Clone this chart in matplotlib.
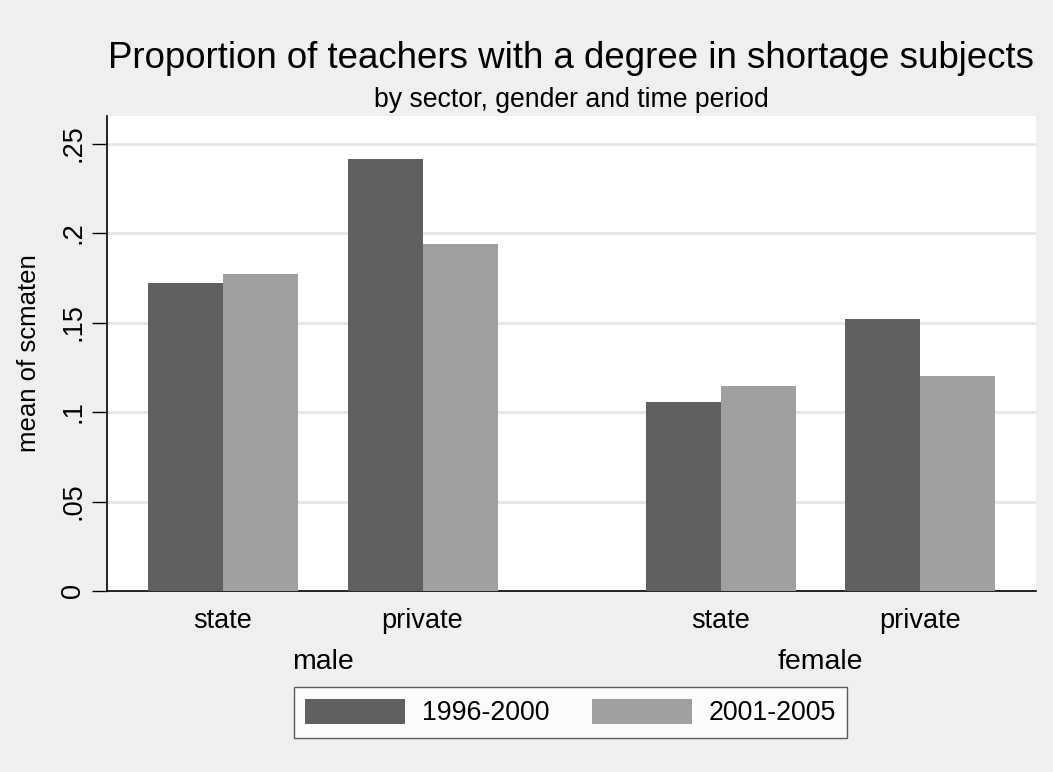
import matplotlib
matplotlib.use('Agg')
import matplotlib.pyplot as plt
import matplotlib.transforms as mtransforms

# ---- data ----
genders = ['male', 'female']
sectors = ['state', 'private']
periods = ['1996-2000', '2001-2005']
vals_1996 = [0.1721, 0.2414, 0.1056, 0.1520]   # male-state, male-private, female-state, female-private
vals_2001 = [0.1771, 0.1939, 0.1146, 0.1201]
yticks = [0, 0.05, 0.10, 0.15, 0.20, 0.25]
ytick_labels = ['0', '.05', '.1', '.15', '.2', '.25']
colors = ['#606060', '#a0a0a0']

plt.rcParams['font.family'] = ['Liberation Sans', 'DejaVu Sans']

W, H = 1053, 772
BG = '#efefef'
fig = plt.figure(figsize=(W / 100, H / 100), dpi=100, facecolor=BG)

# axes placement (pixels)
L, R, T, B = 107, 1036, 116, 591
ax = fig.add_axes([L / W, (H - B) / H, (R - L) / W, (B - T) / H])
ax.set_facecolor('white')

# layout in bar-width units
bw = 1.0
left_pad = 41 / 75
pair_gap = 49.5 / 75
group_gap = 148 / 75
centers = []
x = left_pad
for g in range(len(genders)):
    for s in range(len(sectors)):
        centers.append(x + bw)  # pair center
        x += 2 * bw
        if s < len(sectors) - 1:
            x += pair_gap
    if g < len(genders) - 1:
        x += group_gap
xmax = (R - L) / 75

b1 = ax.bar([c - bw / 2 for c in centers], vals_1996, width=bw, color=colors[0],
            edgecolor='none', zorder=3, label=periods[0])
b2 = ax.bar([c + bw / 2 for c in centers], vals_2001, width=bw, color=colors[1],
            edgecolor='none', zorder=3, label=periods[1])

ax.set_xlim(0, xmax)
ax.set_ylim(0, (B - T) / 89.5 * 0.05)

ax.set_yticks(yticks)
ax.set_yticklabels(ytick_labels, rotation=90, va='center', fontsize=19.5)
ax.tick_params(axis='y', length=11, width=1, color='black', pad=4)
ax.yaxis.grid(True, color='#e6e6e6', linewidth=2, zorder=0)
ax.set_axisbelow(True)

ax.set_xticks(centers)
ax.set_xticklabels(sectors * len(genders), fontsize=19.5)
ax.tick_params(axis='x', length=0, pad=12)

for sp in ['top', 'right']:
    ax.spines[sp].set_visible(False)
ax.spines['left'].set_linewidth(1.2)
ax.spines['bottom'].set_linewidth(1.2)

ax.set_ylabel('mean of scmaten', fontsize=18.5, labelpad=14)

# group labels
trans = mtransforms.blended_transform_factory(ax.transData, ax.transAxes)
for g, name in enumerate(genders):
    gc = (centers[2 * g] + centers[2 * g + 1]) / 2
    ax.text(gc, -(662 - B) / (B - T), name, transform=trans, ha='center', va='center', fontsize=20.5)

# titles
fig.text((L + R) / 2 / W, 1 - 68 / H, 'Proportion of teachers with a degree in shortage subjects',
         ha='center', va='baseline', fontsize=26.4)
fig.text((L + R) / 2 / W, 1 - 107 / H, 'by sector, gender and time period',
         ha='center', va='baseline', fontsize=19.2)

# legend
leg = fig.legend(handles=[b1, b2], labels=periods, loc='center',
                 bbox_to_anchor=((294 + 847) / 2 / W, 1 - 712.5 / H), ncol=2,
                 fontsize=19.3, frameon=True, fancybox=False, edgecolor='#333333',
                 handlelength=3.73, handleheight=1.1, handletextpad=0.63, columnspacing=1.57,
                 borderpad=0.42)
leg.get_frame().set_linewidth(1.0)

fig.savefig('out.png', dpi=100, facecolor=BG)
